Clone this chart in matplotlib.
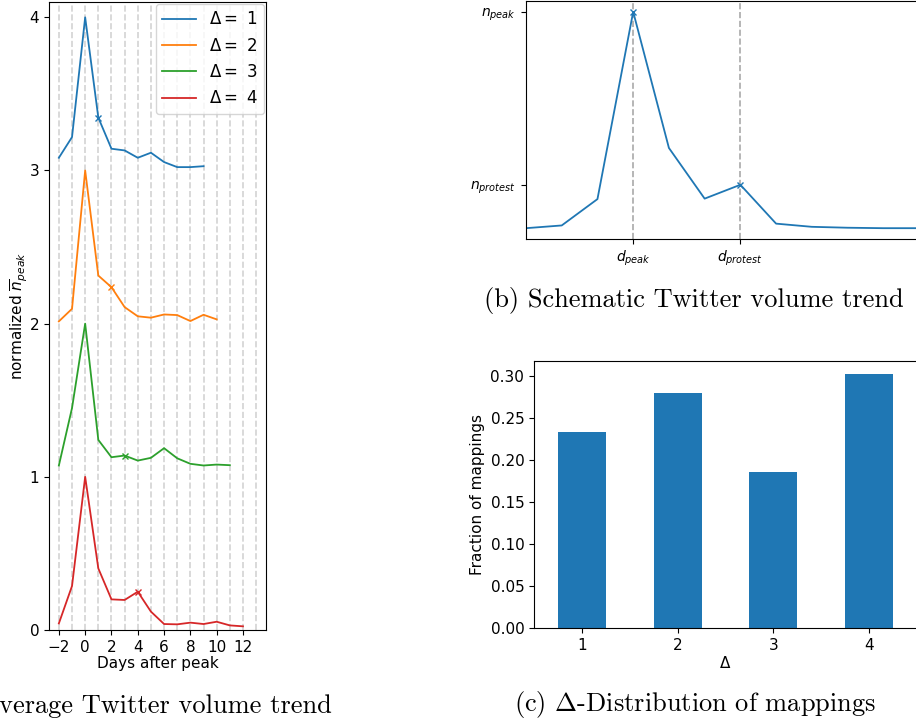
import numpy as np
import matplotlib
matplotlib.use("Agg")
import matplotlib.pyplot as plt

# (a) average Twitter volume trend, one curve per delta (normalised, offset by 4 - delta)
days_d1 = [-2, -1, 0, 1, 2, 3, 4, 5, 6, 7, 8, 9]
vol_d1 = [0.083, 0.218, 1.0, 0.345, 0.142, 0.131, 0.083, 0.116, 0.055, 0.022, 0.022, 0.028]
days_d2 = [-2, -1, 0, 1, 2, 3, 4, 5, 6, 7, 8, 9, 10]
vol_d2 = [0.015, 0.097, 1.0, 0.314, 0.238, 0.108, 0.048, 0.039, 0.060, 0.056, 0.017, 0.058, 0.028]
days_d3 = [-2, -1, 0, 1, 2, 3, 4, 5, 6, 7, 8, 9, 10, 11]
vol_d3 = [0.074, 0.449, 1.0, 0.241, 0.128, 0.139, 0.106, 0.124, 0.187, 0.121, 0.085, 0.074, 0.080, 0.076]
days_d4 = [-2, -1, 0, 1, 2, 3, 4, 5, 6, 7, 8, 9, 10, 11, 12]
vol_d4 = [0.043, 0.287, 1.0, 0.402, 0.200, 0.196, 0.250, 0.120, 0.039, 0.037, 0.048, 0.039, 0.054, 0.030, 0.024]
deltas = [1, 2, 3, 4]
day_lines = list(range(-2, 14))

# (b) schematic trend
sch_days = [0, 1, 2, 3, 4, 5, 6, 7, 8, 9, 10, 11]
sch_vol = [4.8, 6.0, 17.6, 100.0, 40.1, 17.8, 23.9, 6.8, 5.4, 5.0, 4.8, 4.8]
d_peak, d_protest = 3, 6

# (c) delta distribution
delta_labels = ["1", "2", "3", "4"]
fractions = [0.233, 0.280, 0.186, 0.303]

colors = ["#1f77b4", "#ff7f0e", "#2ca02c", "#d62728"]

fig = plt.figure(figsize=(9.16, 7.27), dpi=100)

# ---- panel (a)
ax = fig.add_axes([49 / 916, 97 / 727, 217 / 916, 628 / 727])
for d in day_lines:
    ax.axvline(d, color="lightgray", ls="--", lw=1.2, zorder=0)
series = [(days_d1, vol_d1), (days_d2, vol_d2), (days_d3, vol_d3), (days_d4, vol_d4)]
for (x, y), d, c in zip(series, deltas, colors):
    y = np.array(y) + (4 - d)
    ax.plot(x, y, color=c, lw=1.3, label=r"$\Delta =$ %d" % d)
    i = x.index(d)
    ax.plot(x[i], y[i], "x", color=c, ms=5)
ax.set_ylim(0, 4.1)
ax.set_yticks([0, 1, 2, 3, 4])
ax.set_xticks(range(-2, 13, 2))
ax.tick_params(labelsize=11)
ax.set_xlabel("Days after peak", fontsize=11, labelpad=1)
ax.set_ylabel(r"normalized $\overline{n}_{peak}$", fontsize=11, labelpad=0)
ax.legend(loc="upper right", fontsize=12, borderaxespad=0.1)

# ---- panel (b)
axb = fig.add_axes([526 / 916, 488 / 727, 393 / 916, 238 / 727])
axb.plot(sch_days, sch_vol, color=colors[0], lw=1.3)
axb.plot([d_peak, d_protest], [sch_vol[d_peak], sch_vol[d_protest]], "x", color=colors[0], ms=4)
axb.axvline(d_peak, color="darkgray", ls="--", lw=1.2, zorder=0)
axb.axvline(d_protest, color="darkgray", ls="--", lw=1.2, zorder=0)
axb.set_xlim(sch_days[0], sch_days[-1])
axb.set_xticks([d_peak, d_protest])
axb.set_xticklabels([r"$d_{peak}$", r"$d_{protest}$"], fontsize=10)
axb.set_yticks([sch_vol[d_peak], sch_vol[d_protest]])
axb.set_yticklabels([r"$n_{peak}$", r"$n_{protest}$"], fontsize=10)

# ---- panel (c)
axc = fig.add_axes([534 / 916, 99 / 727, 383 / 916, 267 / 727])
axc.bar(range(len(fractions)), fractions, width=0.5, color=colors[0])
axc.set_xlim(-0.5, 3.5)
axc.set_xticks(range(len(fractions)))
axc.set_xticklabels(delta_labels)
axc.set_yticks(np.arange(0, 0.31, 0.05))
axc.tick_params(labelsize=11)
axc.set_xlabel(r"$\Delta$", fontsize=11, labelpad=2)
axc.set_ylabel("Fraction of mappings", fontsize=11)

# ---- captions (LaTeX style)
cap = dict(fontsize=19, family="cmr10", math_fontfamily="cm")
fig.text(332 / 916, 1 - 713 / 727, "(a) Average Twitter volume trend", ha="right", va="baseline", **cap)
fig.text(694 / 916, 1 - 307 / 727, "(b) Schematic Twitter volume trend", ha="center", va="baseline", **cap)
fig.text(695 / 916, 1 - 711 / 727, r"(c) $\Delta$-Distribution of mappings", ha="center", va="baseline", **cap)

fig.savefig("out.png", dpi=100)
